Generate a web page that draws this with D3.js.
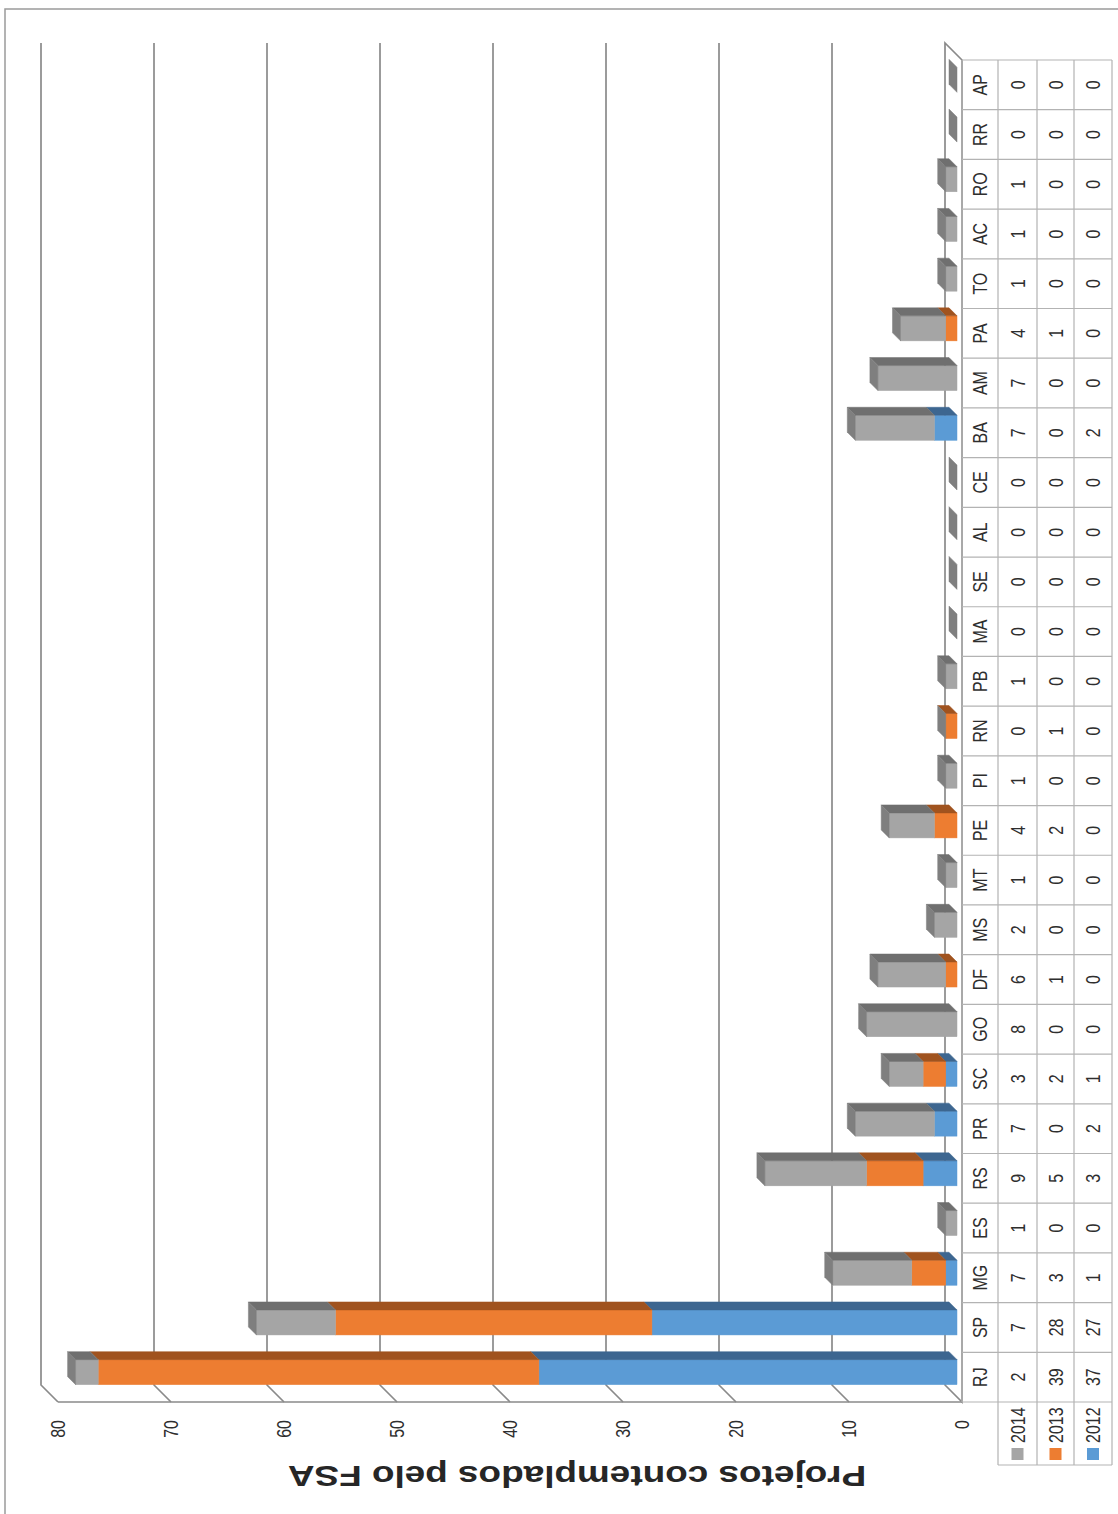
<!DOCTYPE html>
<html>
<head>
<meta charset="utf-8">
<script src="https://cdn.jsdelivr.net/npm/d3@7"></script>
<style>
body { margin: 0; background: #fff; }
svg { display: block; font-family: "Liberation Sans", Arial, sans-serif; }
</style>
</head>
<body>
<script>
// data
var states = ["RJ","SP","MG","ES","RS","PR","SC","GO","DF","MS","MT","PE","PI","RN","PB","MA","SE","AL","CE","BA","AM","PA","TO","AC","RO","RR","AP"];
var years = ["2012","2013","2014"];
var v2012 = [37,27,1,0,3,2,1,0,0,0,0,0,0,0,0,0,0,0,0,2,0,0,0,0,0,0,0];
var v2013 = [39,28,3,0,5,0,2,0,1,0,0,2,0,1,0,0,0,0,0,0,0,1,0,0,0,0,0];
var v2014 = [2,7,7,1,9,7,3,8,6,2,1,4,1,0,1,0,0,0,0,7,7,4,1,1,1,0,0];
var tickValues = [0,10,20,30,40,50,60,70,80];
var titleText = "Projetos contemplados pelo FSA";

function main(){
    var fills = {"2012":"#5b9bd5","2013":"#ed7d31","2014":"#a5a5a5"};
    var sides = {"2012":"#3d6690","2013":"#a0531f","2014":"#6f6f6f"};
    var endFill = "#7f7f7f";
    var gridColor = "#8a8a8a", tableColor = "#b3b3b3", textColor = "#2e2e2e";
    var stretch = 1.3;

    var rows = states.map(function(s, i){
        return {state: s, "2012": v2012[i], "2013": v2013[i], "2014": v2014[i]};
    });
    var series = d3.stack().keys(years)(rows);

    var svg = d3.select("body").append("svg")
        .attr("width", 1118)
        .attr("height", 1514);

    // the whole chart is drawn upright and then turned a quarter turn
    var g = svg.append("g").attr("transform", "translate(0,1514) rotate(-90)");

    // outer border
    g.append("rect")
        .attr("x", -20).attr("y", 5)
        .attr("width", 1525).attr("height", 1200)
        .attr("fill", "none").attr("stroke", "#9a9a9a").attr("stroke-width", 1.5);

    var depth = 17, barOff = 5, barDepth = 8, bw = 25;
    var x = d3.scaleBand().domain(states).range([112, 1454]);
    var y = d3.scaleLinear().domain([0, 80]).range([962, 58]);

    // back wall gridlines and side wall diagonals
    var grid = g.append("g").attr("fill", "none").attr("stroke", gridColor).attr("stroke-width", 1.7);
    tickValues.slice(1).forEach(function(t){
        var yb = y(t) - depth;
        grid.append("path")
            .attr("d", "M" + (x.range()[1] + depth) + "," + yb + "L" + (x.range()[0] + depth) + "," + yb + "L" + x.range()[0] + "," + y(t));
    });
    // floor
    grid.append("path")
        .attr("d", "M" + (x.range()[0] + depth) + "," + (y(0) - depth) +
                   "L" + (x.range()[1] + depth) + "," + (y(0) - depth) +
                   "L" + x.range()[1] + "," + y(0) +
                   "L" + x.range()[0] + "," + y(0) + "Z");
    // side wall front edge
    grid.append("path")
        .attr("d", "M" + x.range()[0] + "," + y(80) + "L" + x.range()[0] + "," + y(0));

    // tick labels
    g.append("g").selectAll("text")
        .data(tickValues)
        .enter().append("text")
        .attr("transform", function(t){ return "translate(94," + y(t) + ") scale(1," + stretch + ")"; })
        .attr("text-anchor", "end")
        .attr("dominant-baseline", "central")
        .attr("font-size", "16px")
        .attr("fill", textColor)
        .text(function(t){ return t; });

    // bars
    var bars = g.append("g");
    function u0(s){ return x(s) + (x.bandwidth() - bw) / 2 + barOff; }
    series.forEach(function(ser){
        var key = ser.key;
        ser.forEach(function(d){
            if (d[1] <= d[0]) return;
            var s = d.data.state;
            var a = u0(s), b = a + bw;
            var top = y(d[1]) - barOff, bot = y(d[0]) - barOff;
            bars.append("rect")
                .attr("x", a).attr("y", top)
                .attr("width", bw).attr("height", bot - top)
                .attr("fill", fills[key]).attr("stroke", fills[key]).attr("stroke-width", 0.5);
            bars.append("path")
                .attr("d", "M" + b + "," + top + "L" + b + "," + bot +
                           "L" + (b + barDepth) + "," + (bot - barDepth) +
                           "L" + (b + barDepth) + "," + (top - barDepth) + "Z")
                .attr("fill", sides[key]).attr("stroke", sides[key]).attr("stroke-width", 0.5);
        });
    });
    // end faces at the top of each stack
    rows.forEach(function(r){
        var total = r["2012"] + r["2013"] + r["2014"];
        var a = u0(r.state), b = a + bw;
        var top = y(total) - barOff;
        bars.append("path")
            .attr("d", "M" + a + "," + top + "L" + b + "," + top +
                       "L" + (b + barDepth) + "," + (top - barDepth) +
                       "L" + (a + barDepth) + "," + (top - barDepth) + "Z")
            .attr("fill", endFill).attr("stroke", endFill).attr("stroke-width", 0.5);
    });

    // data table
    var rowEdges = [962, 998, 1037, 1074, 1112];
    var tableRows = ["2014", "2013", "2012"];
    var legendLeft = 49;
    var table = g.append("g").attr("stroke", tableColor).attr("stroke-width", 1.2);
    rowEdges.forEach(function(v, i){
        table.append("line")
            .attr("x1", i === 0 ? x.range()[0] : legendLeft).attr("x2", x.range()[1])
            .attr("y1", v).attr("y2", v);
    });
    states.concat([null]).forEach(function(s){
        var u = s === null ? x.range()[1] : x(s);
        table.append("line")
            .attr("x1", u).attr("x2", u)
            .attr("y1", rowEdges[0]).attr("y2", rowEdges[4]);
    });
    table.append("line")
        .attr("x1", legendLeft).attr("x2", legendLeft)
        .attr("y1", rowEdges[1]).attr("y2", rowEdges[4]);

    var labels = g.append("g")
        .attr("font-size", "16px")
        .attr("fill", textColor)
        .attr("dominant-baseline", "central");

    // category names
    labels.selectAll(".cat")
        .data(states)
        .enter().append("text")
        .attr("class", "cat")
        .attr("text-anchor", "middle")
        .attr("transform", function(s){
            return "translate(" + (x(s) + x.bandwidth() / 2) + "," + (rowEdges[0] + rowEdges[1]) / 2 + ") scale(1," + stretch + ")";
        })
        .text(function(s){ return s; });

    // values, one row per year
    tableRows.forEach(function(yr, ri){
        var vc = (rowEdges[ri + 1] + rowEdges[ri + 2]) / 2;
        labels.selectAll(".val" + yr)
            .data(rows)
            .enter().append("text")
            .attr("text-anchor", "middle")
            .attr("transform", function(r){
                return "translate(" + (x(r.state) + x.bandwidth() / 2) + "," + vc + ") scale(1," + stretch + ")";
            })
            .text(function(r){ return r[yr]; });

        // legend cell
        g.append("rect")
            .attr("x", 54).attr("y", vc - 6)
            .attr("width", 12).attr("height", 12)
            .attr("fill", fills[yr]);
        labels.append("text")
            .attr("text-anchor", "start")
            .attr("transform", "translate(71," + vc + ") scale(1," + stretch + ")")
            .text(yr);
    });

    // axis title
    g.append("text")
        .attr("transform", "translate(38,577) scale(1,1.2) rotate(-90)")
        .attr("text-anchor", "middle")
        .attr("dominant-baseline", "central")
        .attr("font-size", "30px")
        .attr("font-weight", "bold")
        .attr("fill", "#262626")
        .attr("textLength", 482)
        .attr("lengthAdjust", "spacingAndGlyphs")
        .text(titleText);
}
main();
</script>
</body>
</html>
